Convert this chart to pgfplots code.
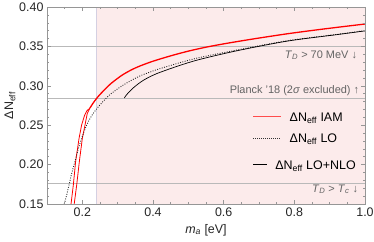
\documentclass[border=0pt]{standalone}
\usepackage{fontspec}
\setmainfont{Liberation Sans}
\usepackage{pgfplots}
\pgfplotsset{compat=1.18}

\definecolor{shade}{RGB}{252,235,235}
\definecolor{edge}{RGB}{212,208,226}
\definecolor{frame}{RGB}{150,150,150}
\definecolor{note}{RGB}{100,100,100}
\definecolor{iam}{RGB}{255,0,0}

% IAM band: two edges below the kink, one line above it
\pgfplotstableread{
m d
0.168 0.150
0.1745 0.174
0.181 0.2037
0.1907 0.2333
0.198 0.2503
0.206 0.2620
0.2124 0.2680
0.2218 0.2720
}\iamleft
\pgfplotstableread{
m d
0.177 0.150
0.184 0.174
0.1915 0.2037
0.200 0.2333
0.2076 0.2503
0.214 0.2650
0.2218 0.2720
}\iamright
\pgfplotstableread{
m d
0.2218 0.2720
0.2300 0.2777
0.2400 0.2838
0.2500 0.2890
0.2650 0.2960
0.2800 0.3025
0.3000 0.3095
0.3160 0.3145
0.3400 0.3205
0.3635 0.3252
0.4000 0.3312
0.4500 0.3380
0.5000 0.3440
0.5500 0.3490
0.6000 0.3532
0.6500 0.3570
0.7000 0.3606
0.7800 0.3660
0.8500 0.3702
0.9215 0.3742
1.0000 0.3784
}\iamtop
\pgfplotstableread{
m d
0.149 0.150
0.156 0.162
0.1623 0.174
0.170 0.189
0.179 0.2037
0.188 0.219
0.198 0.2333
0.2124 0.2503
0.225 0.2610
0.2454 0.2735
0.269 0.2850
0.2785 0.2890
0.300 0.2962
0.316 0.3010
0.340 0.3072
0.3635 0.3126
0.392 0.3175
0.4108 0.3205
0.4768 0.3294
0.5334 0.3360
0.638 0.3454
0.780 0.3572
0.9215 0.3653
1.0 0.3700
}\lo
\pgfplotstableread{
m d
0.319 0.2845
0.325 0.2885
0.3445 0.2975
0.3728 0.3070
0.4108 0.3155
0.4768 0.3260
0.5334 0.3336
0.638 0.3445
0.780 0.3567
0.9215 0.3650
1.0 0.3697
}\nlo

\begin{document}
\begin{tikzpicture}
\useasboundingbox (0,0) rectangle (374bp,242bp);
\begin{axis}[
  at={(47bp,38bp)}, anchor=south west,
  scale only axis, width=318bp, height=197bp,
  xmin=0.1, xmax=1.0, ymin=0.15, ymax=0.40,
  xtick={0.2,0.4,0.6,0.8,1.0},
  minor xtick={0.15,0.25,0.3,0.35,0.45,0.5,0.55,0.65,0.7,0.75,0.85,0.9,0.95},
  ytick={0.15,0.20,0.25,0.30,0.35,0.40},
  minor y tick num=4,
  tick align=inside,
  major tick length=4bp, minor tick length=2.2bp,
  axis line style={frame, line width=0.6pt},
  every tick/.style={frame, line width=0.5pt},
  /pgf/number format/assume math mode=true,
  tick label style={font=\fontsize{12.5}{14}\selectfont, text=black!85},
  xticklabel style={/pgf/number format/.cd, fixed, fixed zerofill, precision=1},
  yticklabel style={/pgf/number format/.cd, fixed, fixed zerofill, precision=2},
  label style={font=\fontsize{12.5}{14}\selectfont, text=black!85},
  xlabel={\textit{m}\textsubscript{\textit{a}} [eV]},
  ylabel={ΔN\textsubscript{eff}},
  xlabel style={yshift=-1bp},
  ylabel style={yshift=-3bp},
  axis on top,
]
\addplot[fill=shade, draw=none] coordinates {(0.24,0.15) (0.24,0.40) (1.0,0.40) (1.0,0.15)} -- cycle;
\addplot[edge, line width=0.7pt] coordinates {(0.24,0.15) (0.24,0.40)};

\addplot[gray!55, line width=0.9pt] coordinates {(0.1,0.35) (1.0,0.35)};
\addplot[gray!55, line width=0.9pt] coordinates {(0.1,0.2836) (1.0,0.2836)};
\addplot[gray!55, line width=0.9pt] coordinates {(0.1,0.176) (1.0,0.176)};

\addplot[iam, line width=0.8pt] table[x=m, y=d] {\iamleft};
\addplot[iam, line width=0.8pt] table[x=m, y=d] {\iamright};
\addplot[iam, line width=1.3pt, smooth, tension=0.5] table[x=m, y=d] {\iamtop};
\addplot[black!85, line width=0.9pt, dash pattern=on 0.9pt off 1.5pt, smooth, tension=0.5] table[x=m, y=d] {\lo};
\addplot[black, line width=0.7pt, smooth, tension=0.5] table[x=m, y=d] {\nlo};

\node[anchor=base east, inner sep=0, text=note, font=\fontsize{11}{13}\selectfont]
  at (axis cs:0.978,0.3349) {\textit{T}\textsubscript{\textit{D}} > 70 MeV ↓};
\node[anchor=base east, inner sep=0, text=note, font=\fontsize{11}{13}\selectfont]
  at (axis cs:0.984,0.2896) {Planck '18 (2\textit{σ} excluded) ↑};
\node[anchor=base east, inner sep=0, text=note, font=\fontsize{11}{13}\selectfont]
  at (axis cs:0.981,0.1650) {\textit{T}\textsubscript{\textit{D}} > \textit{T}\textsubscript{\textit{c}} ↓};

% legend
\draw[iam!70, line width=0.8pt] (axis cs:0.6844,0.2608) -- (axis cs:0.7629,0.2608);
\node[anchor=base west, inner sep=0, font=\fontsize{12.5}{14}\selectfont]
  at (axis cs:0.7864,0.2544) {ΔN\textsubscript{eff} IAM};
\draw[black!80, line width=0.6pt, dash pattern=on 0.7pt off 1.3pt] (axis cs:0.6844,0.2334) -- (axis cs:0.7601,0.2334);
\node[anchor=base west, inner sep=0, font=\fontsize{12.5}{14}\selectfont]
  at (axis cs:0.7864,0.2278) {ΔN\textsubscript{eff} LO};
\draw[black, line width=0.7pt] (axis cs:0.6844,0.2004) -- (axis cs:0.7224,0.2004);
\node[anchor=base west, inner sep=0, font=\fontsize{12.5}{14}\selectfont]
  at (axis cs:0.7459,0.1944) {ΔN\textsubscript{eff} LO+NLO};
\end{axis}
\end{tikzpicture}
\end{document}
